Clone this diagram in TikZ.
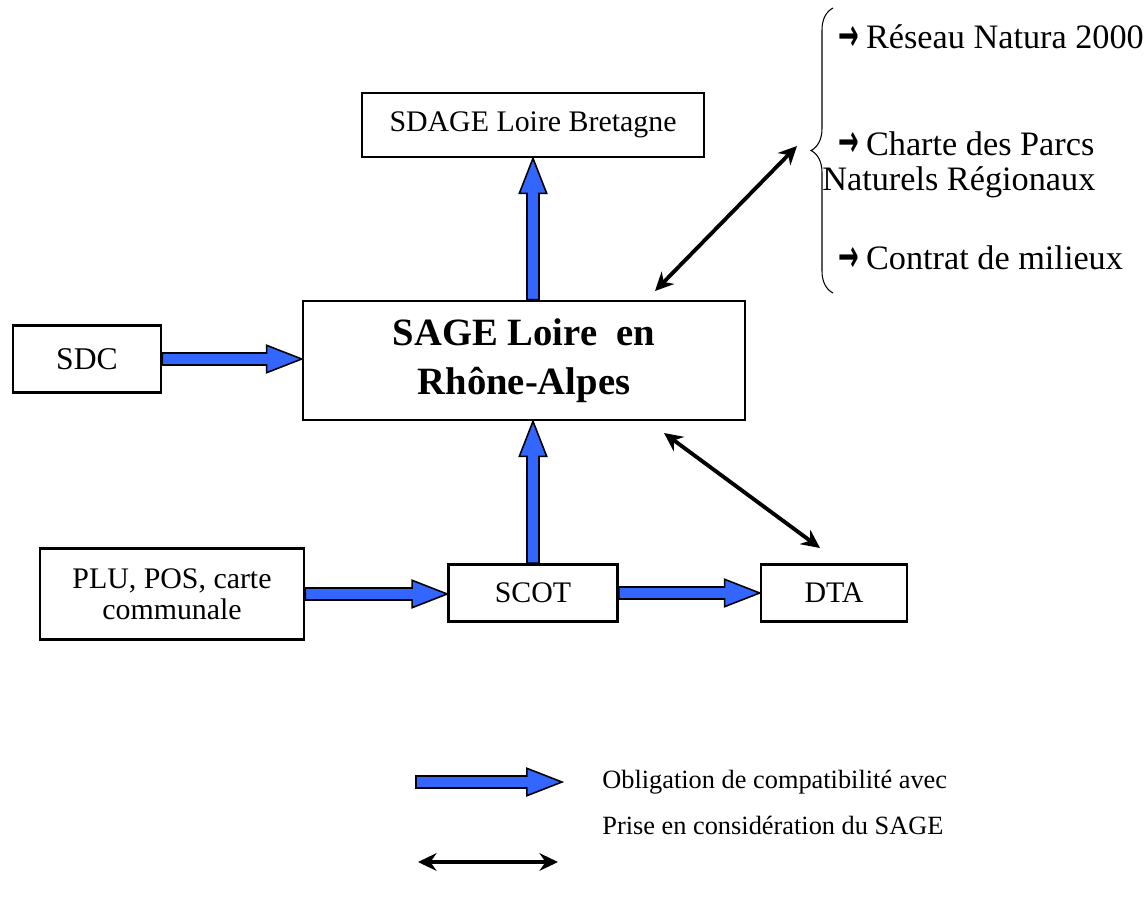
\documentclass[tikz,border=0pt]{standalone}
\usepackage{fontspec}
\setmainfont{Liberation Serif}
\newfontfamily\arrowfont{DejaVu Sans}
\usetikzlibrary{calc,arrows.meta,decorations.pathreplacing}
\definecolor{arrowblue}{RGB}{51,102,255}
\def\R{\smash{\raisebox{-1pt}{\scalebox{0.72}[1.3]{\arrowfont\bfseries →}}}\hspace{4pt}}
% block arrow between two named points
\newcommand{\bluearrow}[2]{%
\draw[bluearrow] ($(#1)!3.4pt!90:(#2)$) -- ($(#2)!20pt!(#1)!3.4pt!90:(#2)$)
 -- ($(#2)!20pt!(#1)!7.8pt!90:(#2)$) -- (#2)
 -- ($(#2)!20pt!(#1)!7.8pt!-90:(#2)$) -- ($(#2)!20pt!(#1)!3.4pt!-90:(#2)$)
 -- ($(#1)!3.4pt!-90:(#2)$) -- cycle;}

\begin{document}
\begin{tikzpicture}[x=0.02cm,y=-0.02cm,
  box/.style={draw,line width=1.5pt,inner sep=0pt,align=center,font=\fontsize{17}{17.6}\selectfont},
  bluearrow/.style={fill=arrowblue,draw=black,line width=0.9pt,line join=miter},
  dblarrow/.style={{Stealth[length=10.5pt,width=10pt]}-{Stealth[length=10.5pt,width=10pt]},line width=2.2pt},
  side/.style={anchor=west,inner sep=0pt,align=left,font=\fontsize{19.5}{20}\selectfont},
  legend/.style={anchor=west,inner sep=0pt,font=\fontsize{15}{18}\selectfont}]
\useasboundingbox (0,0) rectangle (1144,900);

%boxes
\node[box,minimum width=6.84cm,minimum height=1.28cm] (sdage) at (533,125) {SDAGE Loire Bretagne};
\node[box,minimum width=8.84cm,minimum height=2.38cm,font=\fontsize{22}{28}\selectfont\bfseries] (sage) at (524,360.5) {SAGE Loire\ \ en\\Rhône-Alpes};
\node[box,minimum width=2.96cm,minimum height=1.34cm,font=\fontsize{18}{18}\selectfont] (sdc) at (87,359) {SDC};
\node[box,minimum width=5.28cm,minimum height=1.82cm] (plu) at (172,594) {PLU, POS, carte\\communale};
\node[box,minimum width=3.38cm,minimum height=1.14cm] (scot) at (533,593) {SCOT};
\node[box,minimum width=2.92cm,minimum height=1.14cm] (dta) at (834,593) {DTA};

%right list
\draw[line width=0.6pt,decorate,decoration={brace,amplitude=0.44cm,aspect=0.5}] (833,293) -- (833,8);
\node[side] (natura) at (838,37) {\R Réseau Natura 2000};
\node[side] (parcs) at (822,164.5) {\hspace*{0.32cm}\R Charte des Parcs\\Naturels Régionaux};
\node[side] (contrat) at (838,258) {\R Contrat de milieux};

%blue arrows
\coordinate (sagetop) at (sage.north -| sdage.south);
\coordinate (sagebot) at (sage.south -| scot.north);
\coordinate (sageleft) at (sdc.east -| sage.west);
\coordinate (scotleft) at (plu.east -| scot.west);
\bluearrow{sagetop}{sdage.south}
\bluearrow{sdc.east}{sageleft}
\bluearrow{scot.north}{sagebot}
\bluearrow{plu.east}{scotleft}
\bluearrow{scot.east}{dta.west}

%black arrows
\coordinate (sageup) at (655,291);
\coordinate (brace) at (797,146);
\coordinate (sagedown) at (664,433);
\coordinate (dtaup) at (820,548);
\draw[dblarrow] (sageup) -- (brace);
\draw[dblarrow] (sagedown) -- (dtaup);

%legend
\coordinate (la) at (416,782);
\coordinate (lb) at (562,782);
\bluearrow{la}{lb}
\node[legend] (oblig) at (602,782) {Obligation de compatibilité avec};
\coordinate (lc) at (418,862);
\coordinate (ld) at (558,862);
\draw[dblarrow] (lc) -- (ld);
\node[legend] (prise) at (602,825) {Prise en considération du SAGE};
\end{tikzpicture}
\end{document}
